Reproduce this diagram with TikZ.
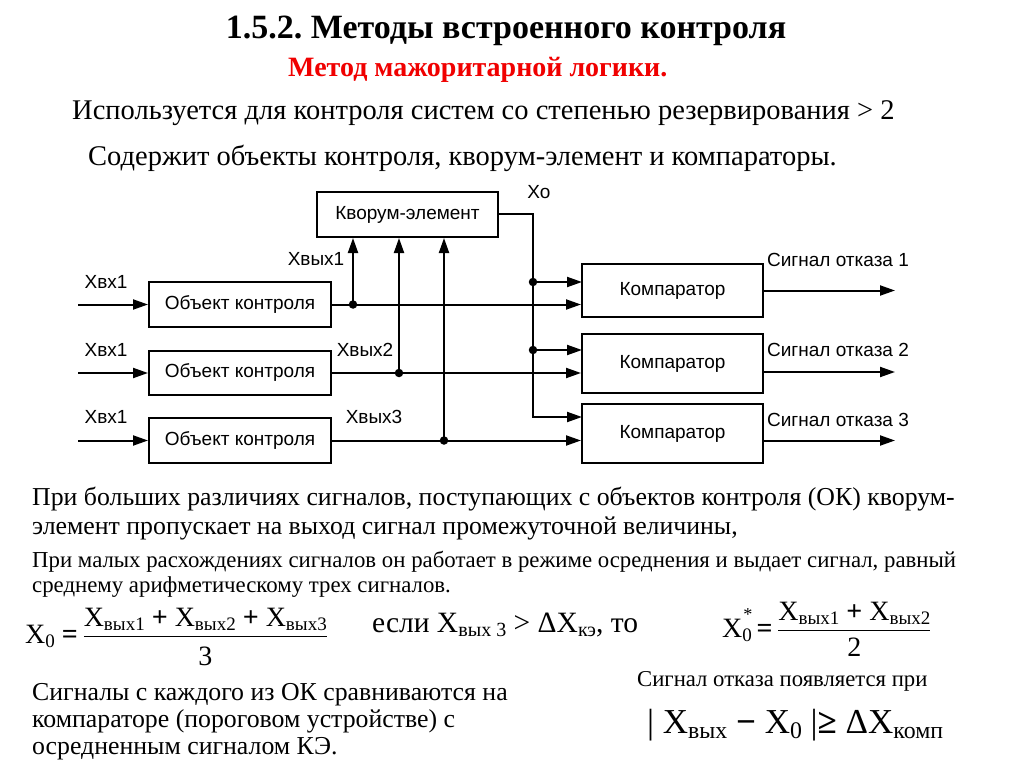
\documentclass[tikz,border=0pt]{standalone}
\usepackage{amsmath}
\usepackage{fontspec}
\usepackage{xcolor}
\usetikzlibrary{arrows.meta,positioning,calc}
\setmainfont{Liberation Serif}
\newfontfamily\diagfont{Liberation Sans}
\definecolor{subred}{RGB}{240,0,0}
\frenchspacing
% subscript in text
\newcommand{\lowsub}[2][0.68]{\raisebox{-0.35ex}{\scalebox{#1}{#2}}}

\begin{document}
\begin{tikzpicture}[x=1pt,y=-1pt,
  blk/.style={draw,line width=2pt,inner sep=0pt,font=\diagfont\fontsize{19}{22}\selectfont},
  sig/.style={line width=2pt},
  arr/.style={sig,-{Triangle[length=15pt,width=10pt]}},
  dot/.style={circle,fill,inner sep=0pt,minimum size=8.5pt},
  lbl/.style={inner sep=0pt,font=\diagfont\fontsize{19}{22}\selectfont},
  txt/.style={inner sep=0pt,anchor=base west}]
  \useasboundingbox (0,0) rectangle (1024,767);

  % headings
  \node[inner sep=0pt,anchor=base] (title) at (506,39)
    {\fontsize{34}{38}\selectfont\bfseries 1.5.2. Методы встроенного контроля};
  \node[txt,text=subred] (sub) at (288,77)
    {\fontsize{28}{32}\selectfont\bfseries Метод мажоритарной логики.};
  \node[txt] (use) at (72,120)
    {\fontsize{28.5}{32}\selectfont Используется для контроля систем со степенью резервирования > 2};
  \node[txt] (has) at (88,166)
    {\fontsize{28.5}{32}\selectfont Содержит объекты контроля, кворум-элемент и компараторы.};

  % blocks
  \node[blk,minimum width=181pt,minimum height=45pt] (kv) at (407.5,214.5) {Кворум-элемент};
  \node[blk,minimum width=182pt,minimum height=45pt] (ok1) at (240,304.5) {Объект контроля};
  \node[blk,minimum width=182pt,minimum height=44pt] (ok2) at (240,373) {Объект контроля};
  \node[blk,minimum width=182pt,minimum height=45pt] (ok3) at (240,440.5) {Объект контроля};
  \node[blk,minimum width=181pt,minimum height=53pt] (cmp1) at (672.5,290.5) {Компаратор};
  \node[blk,minimum width=181pt,minimum height=59pt] (cmp2) at (672.5,363.5) {Компаратор};
  \node[blk,minimum width=181pt,minimum height=59pt] (cmp3) at (672.5,433.5) {Компаратор};

  % free ends and branch points
  \coordinate (in1) at (78,304.5);
  \coordinate (in2) at (78,373);
  \coordinate (in3) at (78,440.5);
  \coordinate (j1) at (353,304.5);
  \coordinate (j2) at (399,373);
  \coordinate (j3) at (444,440.5);
  \coordinate (bus) at (533,214.5);
  \coordinate (c1a) at (582,282);
  \coordinate (c2a) at (582,350);
  \coordinate (c3a) at (582,417);
  \coordinate (out1) at (895,290.5);
  \coordinate (out2) at (895,372);
  \coordinate (out3) at (895,440.5);

  % inputs
  \draw[arr] (in1) -- (ok1.west);
  \draw[arr] (in2) -- (ok2.west);
  \draw[arr] (in3) -- (ok3.west);
  % outputs of the objects
  \draw[arr] (ok1.east) -- (ok1.east -| cmp1.west);
  \draw[arr] (ok2.east) -- (ok2.east -| cmp2.west);
  \draw[arr] (ok3.east) -- (ok3.east -| cmp3.west);
  \draw[arr] (j1) -- (j1 |- kv.south);
  \draw[arr] (j2) -- (j2 |- kv.south);
  \draw[arr] (j3) -- (j3 |- kv.south);
  \node[dot] at (j1) {};
  \node[dot] at (j2) {};
  \node[dot] at (j3) {};
  % quorum output
  \draw[arr] (kv.east) -- (bus) |- (c3a);
  \draw[arr] (bus |- c1a) -- (c1a);
  \draw[arr] (bus |- c2a) -- (c2a);
  \node[dot] at (bus |- c1a) {};
  \node[dot] at (bus |- c2a) {};
  % comparator outputs
  \draw[arr] (cmp1.east) -- (out1);
  \draw[arr] (cmp2.east |- out2) -- (out2);
  \draw[arr] (cmp3.east |- out3) -- (out3);

  % labels
  \node[lbl] (lin1) at (106,282) {Хвх1};
  \node[lbl] (lin2) at (106,350) {Хвх1};
  \node[lbl] (lin3) at (106,417) {Хвх1};
  \node[lbl] (lout1) at (316,259) {Хвых1};
  \node[lbl] (lout2) at (365,350) {Хвых2};
  \node[lbl] (lout3) at (374,417) {Хвых3};
  \node[lbl] (lxo) at (539,192) {Хо};
  \node[lbl] (lf1) at (838,260) {Сигнал отказа 1};
  \node[lbl] (lf2) at (838,350) {Сигнал отказа 2};
  \node[lbl] (lf3) at (838,420) {Сигнал отказа 3};

  % explanations
  \node[txt] (p1a) at (32,505)
    {\fontsize{25.8}{28}\selectfont При больших различиях сигналов, поступающих с объектов контроля (ОК) кворум-};
  \node[txt] (p1b) at (32,534)
    {\fontsize{25.8}{28}\selectfont элемент пропускает на выход сигнал промежуточной величины,};
  \node[txt] (p2a) at (32,567)
    {\fontsize{22.8}{26}\selectfont При малых расхождениях сигналов он работает в режиме осреднения и выдает сигнал, равный};
  \node[txt] (p2b) at (32,592)
    {\fontsize{22.8}{26}\selectfont среднему арифметическому трех сигналов.};

  % formulas
  \node[txt] (f1) at (25,643)
    {\fontsize{28}{32}\selectfont X\lowsub{0} \textbf{=}\,$\dfrac{\text{X\lowsub{вых1} \textbf{+} X\lowsub{вых2} \textbf{+} X\lowsub{вых3}}\rule[-6pt]{0pt}{1pt}}{\rule{0pt}{25pt}\text{3}}$};
  \node[txt] (f2) at (372,632)
    {\fontsize{29.5}{32}\selectfont если X\lowsub{вых 3} > ΔX\lowsub{кэ}, то};
  \node[txt] (f3) at (722,637)
    {\fontsize{28}{30}\selectfont X\lowsub{0}\kern-8.5pt\raisebox{1.25ex}{\scalebox{0.65}{*}}\kern4pt \textbf{=}\,$\dfrac{\text{X\lowsub{вых1} \textbf{+} X\lowsub{вых2}}\rule[-5pt]{0pt}{1pt}}{\rule{0pt}{22pt}\text{2}}$};

  \node[txt] (p3a) at (32,700)
    {\fontsize{25.8}{28}\selectfont Сигналы с каждого из ОК сравниваются на};
  \node[txt] (p3b) at (32,727)
    {\fontsize{25.8}{28}\selectfont компараторе (пороговом устройстве) с};
  \node[txt] (p3c) at (32,754)
    {\fontsize{25.8}{28}\selectfont осредненным сигналом КЭ.};
  \node[txt] (fail) at (637,686)
    {\fontsize{22.7}{26}\selectfont Сигнал отказа появляется при};
  \node[txt] (f4) at (647,733)
    {\fontsize{35}{38}\selectfont | X\lowsub[0.68]{вых} \textbf{−} X\lowsub[0.68]{0} |\textbf{≥} ΔX\lowsub[0.68]{комп}};
\end{tikzpicture}
\end{document}
